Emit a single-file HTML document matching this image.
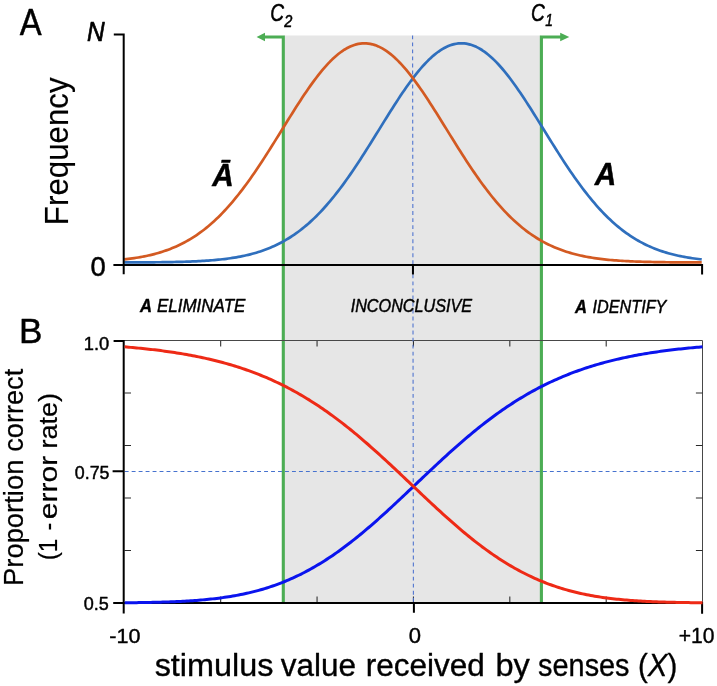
<!DOCTYPE html>
<html lang="en"><head><meta charset="utf-8"><title>Figure</title>
<style>html,body{margin:0;padding:0;background:#fff}svg{display:block;will-change:transform}</style></head>
<body>
<svg width="717" height="686" viewBox="0 0 717 686" font-family="Liberation Sans, sans-serif" fill="#000">
<rect x="0" y="0" width="717" height="686" fill="#fff"/>
<rect x="283.4" y="35.5" width="258" height="567.5" fill="#e6e6e6"/>
<path d="M283.3 602 V37 H264" fill="none" stroke="#4cad54" stroke-width="3.1"/>
<path d="M256.6 37 L265 32.8 V41.3 Z" fill="#4cad54"/>
<path d="M541.4 602 V37 H561" fill="none" stroke="#4cad54" stroke-width="3.1"/>
<path d="M569.3 37 L560.2 32.8 V41.3 Z" fill="#4cad54"/>
<path d="M123.7 340.5 H702.5 V603" fill="none" stroke="#484848" stroke-width="1"/>
<path d="M220.68 341 v5.5 M220.68 602 v-5.5 M317.06 341 v5.5 M317.06 602 v-5.5 M413.44 341 v5.5 M413.44 602 v-5.5 M509.82 341 v5.5 M509.82 602 v-5.5 M606.20 341 v5.5 M606.20 602 v-5.5 M124.5 393.00 h6.5 M702.5 393.00 h-6.6 M124.5 445.50 h6.5 M702.5 445.50 h-6.6 M124.5 498.00 h6.5 M702.5 498.00 h-6.6 M124.5 550.50 h6.5 M702.5 550.50 h-6.6" fill="none" stroke="#2a2a2a" stroke-width="1.05"/>
<path d="M412.6 35.5 L413.4 602" fill="none" stroke="#4a70cf" stroke-width="1.05" stroke-dasharray="3.9 3.13" stroke-dashoffset="0.14"/>
<path d="M124.7 471.5 H702.5" fill="none" stroke="#4672cf" stroke-width="1.1" stroke-dasharray="3.9 3.07"/>
<path d="M124.30 262.45 L126.30 262.44 L128.30 262.44 L130.30 262.43 L132.30 262.43 L134.30 262.42 L136.30 262.41 L138.30 262.40 L140.30 262.39 L142.30 262.38 L144.30 262.37 L146.30 262.36 L148.30 262.34 L150.30 262.33 L152.30 262.31 L154.30 262.29 L156.30 262.27 L158.30 262.25 L160.30 262.23 L162.30 262.20 L164.30 262.18 L166.30 262.15 L168.30 262.11 L170.30 262.08 L172.30 262.04 L174.30 262.00 L176.30 261.96 L178.30 261.91 L180.30 261.86 L182.30 261.80 L184.30 261.74 L186.30 261.68 L188.30 261.61 L190.30 261.53 L192.30 261.45 L194.30 261.37 L196.30 261.28 L198.30 261.18 L200.30 261.07 L202.30 260.96 L204.30 260.83 L206.30 260.70 L208.30 260.56 L210.30 260.41 L212.30 260.25 L214.30 260.08 L216.30 259.90 L218.30 259.71 L220.30 259.50 L222.30 259.28 L224.30 259.04 L226.30 258.79 L228.30 258.53 L230.30 258.25 L232.30 257.95 L234.30 257.63 L236.30 257.30 L238.30 256.94 L240.30 256.56 L242.30 256.16 L244.30 255.74 L246.30 255.30 L248.30 254.83 L250.30 254.33 L252.30 253.81 L254.30 253.26 L256.30 252.68 L258.30 252.07 L260.30 251.43 L262.30 250.75 L264.30 250.04 L266.30 249.30 L268.30 248.52 L270.30 247.71 L272.30 246.85 L274.30 245.96 L276.30 245.02 L278.30 244.05 L280.30 243.03 L282.30 241.97 L284.30 240.86 L286.30 239.70 L288.30 238.50 L290.30 237.25 L292.30 235.95 L294.30 234.60 L296.30 233.19 L298.30 231.74 L300.30 230.23 L302.30 228.67 L304.30 227.05 L306.30 225.38 L308.30 223.65 L310.30 221.87 L312.30 220.02 L314.30 218.13 L316.30 216.17 L318.30 214.16 L320.30 212.08 L322.30 209.96 L324.30 207.77 L326.30 205.52 L328.30 203.22 L330.30 200.86 L332.30 198.45 L334.30 195.98 L336.30 193.46 L338.30 190.88 L340.30 188.25 L342.30 185.57 L344.30 182.84 L346.30 180.06 L348.30 177.24 L350.30 174.37 L352.30 171.46 L354.30 168.50 L356.30 165.51 L358.30 162.49 L360.30 159.42 L362.30 156.33 L364.30 153.21 L366.30 150.07 L368.30 146.90 L370.30 143.71 L372.30 140.51 L374.30 137.29 L376.30 134.07 L378.30 130.84 L380.30 127.61 L382.30 124.38 L384.30 121.16 L386.30 117.95 L388.30 114.75 L390.30 111.57 L392.30 108.41 L394.30 105.28 L396.30 102.19 L398.30 99.12 L400.30 96.10 L402.30 93.12 L404.30 90.19 L406.30 87.31 L408.30 84.49 L410.30 81.73 L412.30 79.04 L414.30 76.41 L416.30 73.86 L418.30 71.39 L420.30 69.00 L422.30 66.69 L424.30 64.48 L426.30 62.36 L428.30 60.33 L430.30 58.40 L432.30 56.58 L434.30 54.87 L436.30 53.26 L438.30 51.77 L440.30 50.39 L442.30 49.12 L444.30 47.98 L446.30 46.96 L448.30 46.06 L450.30 45.28 L452.30 44.64 L454.30 44.11 L456.30 43.72 L458.30 43.46 L460.30 43.32 L462.30 43.31 L464.30 43.44 L466.30 43.69 L468.30 44.07 L470.30 44.58 L472.30 45.21 L474.30 45.98 L476.30 46.86 L478.30 47.87 L480.30 49.00 L482.30 50.26 L484.30 51.62 L486.30 53.11 L488.30 54.70 L490.30 56.41 L492.30 58.22 L494.30 60.13 L496.30 62.15 L498.30 64.26 L500.30 66.47 L502.30 68.76 L504.30 71.15 L506.30 73.61 L508.30 76.15 L510.30 78.77 L512.30 81.46 L514.30 84.21 L516.30 87.03 L518.30 89.90 L520.30 92.82 L522.30 95.80 L524.30 98.82 L526.30 101.88 L528.30 104.97 L530.30 108.10 L532.30 111.25 L534.30 114.43 L536.30 117.63 L538.30 120.84 L540.30 124.06 L542.30 127.29 L544.30 130.52 L546.30 133.75 L548.30 136.97 L550.30 140.19 L552.30 143.39 L554.30 146.58 L556.30 149.75 L558.30 152.90 L560.30 156.02 L562.30 159.12 L564.30 162.18 L566.30 165.21 L568.30 168.21 L570.30 171.16 L572.30 174.08 L574.30 176.95 L576.30 179.78 L578.30 182.57 L580.30 185.30 L582.30 187.99 L584.30 190.62 L586.30 193.20 L588.30 195.73 L590.30 198.21 L592.30 200.63 L594.30 202.99 L596.30 205.30 L598.30 207.55 L600.30 209.74 L602.30 211.87 L604.30 213.95 L606.30 215.97 L608.30 217.93 L610.30 219.84 L612.30 221.68 L614.30 223.47 L616.30 225.21 L618.30 226.89 L620.30 228.51 L622.30 230.08 L624.30 231.59 L626.30 233.05 L628.30 234.46 L630.30 235.81 L632.30 237.12 L634.30 238.38 L636.30 239.58 L638.30 240.74 L640.30 241.86 L642.30 242.92 L644.30 243.95 L646.30 244.93 L648.30 245.87 L650.30 246.77 L652.30 247.62 L654.30 248.44 L656.30 249.23 L658.30 249.97 L660.30 250.68 L662.30 251.36 L664.30 252.00 L666.30 252.62 L668.30 253.20 L670.30 253.75 L672.30 254.28 L674.30 254.78 L676.30 255.25 L678.30 255.70 L680.30 256.12 L682.30 256.52 L684.30 256.90 L686.30 257.26 L688.30 257.60 L690.30 257.92 L692.30 258.22 L694.30 258.50 L696.30 258.77 L698.30 259.02 L700.30 259.26 L701.70 259.41" fill="none" stroke="#2f6fbd" stroke-width="2.7" stroke-linejoin="round"/>
<path d="M124.30 259.39 L126.30 259.16 L128.30 258.92 L130.30 258.66 L132.30 258.39 L134.30 258.10 L136.30 257.79 L138.30 257.47 L140.30 257.12 L142.30 256.75 L144.30 256.37 L146.30 255.96 L148.30 255.52 L150.30 255.07 L152.30 254.58 L154.30 254.07 L156.30 253.54 L158.30 252.97 L160.30 252.38 L162.30 251.75 L164.30 251.09 L166.30 250.40 L168.30 249.68 L170.30 248.92 L172.30 248.12 L174.30 247.28 L176.30 246.41 L178.30 245.50 L180.30 244.54 L182.30 243.54 L184.30 242.50 L186.30 241.42 L188.30 240.29 L190.30 239.11 L192.30 237.88 L194.30 236.60 L196.30 235.28 L198.30 233.90 L200.30 232.47 L202.30 230.99 L204.30 229.46 L206.30 227.87 L208.30 226.22 L210.30 224.52 L212.30 222.77 L214.30 220.95 L216.30 219.08 L218.30 217.16 L220.30 215.17 L222.30 213.13 L224.30 211.03 L226.30 208.87 L228.30 206.65 L230.30 204.38 L232.30 202.05 L234.30 199.66 L236.30 197.22 L238.30 194.73 L240.30 192.18 L242.30 189.57 L244.30 186.92 L246.30 184.21 L248.30 181.46 L250.30 178.66 L252.30 175.81 L254.30 172.92 L256.30 169.99 L258.30 167.01 L260.30 164.00 L262.30 160.96 L264.30 157.88 L266.30 154.78 L268.30 151.64 L270.30 148.49 L272.30 145.31 L274.30 142.11 L276.30 138.90 L278.30 135.68 L280.30 132.46 L282.30 129.23 L284.30 126.00 L286.30 122.77 L288.30 119.55 L290.30 116.35 L292.30 113.16 L294.30 109.99 L296.30 106.85 L298.30 103.73 L300.30 100.65 L302.30 97.61 L304.30 94.60 L306.30 91.65 L308.30 88.74 L310.30 85.89 L312.30 83.10 L314.30 80.37 L316.30 77.71 L318.30 75.13 L320.30 72.61 L322.30 70.18 L324.30 67.83 L326.30 65.57 L328.30 63.40 L330.30 61.33 L332.30 59.35 L334.30 57.48 L336.30 55.71 L338.30 54.05 L340.30 52.50 L342.30 51.06 L344.30 49.74 L346.30 48.54 L348.30 47.45 L350.30 46.49 L352.30 45.66 L354.30 44.94 L356.30 44.36 L358.30 43.90 L360.30 43.57 L362.30 43.37 L364.30 43.30 L366.30 43.36 L368.30 43.55 L370.30 43.86 L372.30 44.31 L374.30 44.88 L376.30 45.58 L378.30 46.40 L380.30 47.35 L382.30 48.42 L384.30 49.62 L386.30 50.92 L388.30 52.35 L390.30 53.89 L392.30 55.54 L394.30 57.30 L396.30 59.16 L398.30 61.13 L400.30 63.19 L402.30 65.35 L404.30 67.60 L406.30 69.94 L408.30 72.37 L410.30 74.87 L412.30 77.45 L414.30 80.11 L416.30 82.83 L418.30 85.61 L420.30 88.46 L422.30 91.35 L424.30 94.31 L426.30 97.30 L428.30 100.34 L430.30 103.42 L432.30 106.53 L434.30 109.67 L436.30 112.84 L438.30 116.03 L440.30 119.23 L442.30 122.45 L444.30 125.67 L446.30 128.90 L448.30 132.13 L450.30 135.36 L452.30 138.58 L454.30 141.79 L456.30 144.99 L458.30 148.17 L460.30 151.33 L462.30 154.46 L464.30 157.57 L466.30 160.65 L468.30 163.70 L470.30 166.71 L472.30 169.69 L474.30 172.63 L476.30 175.52 L478.30 178.37 L480.30 181.18 L482.30 183.94 L484.30 186.65 L486.30 189.31 L488.30 191.92 L490.30 194.47 L492.30 196.98 L494.30 199.42 L496.30 201.81 L498.30 204.15 L500.30 206.43 L502.30 208.65 L504.30 210.81 L506.30 212.92 L508.30 214.97 L510.30 216.96 L512.30 218.89 L514.30 220.77 L516.30 222.59 L518.30 224.35 L520.30 226.05 L522.30 227.70 L524.30 229.30 L526.30 230.84 L528.30 232.33 L530.30 233.76 L532.30 235.14 L534.30 236.47 L536.30 237.75 L538.30 238.99 L540.30 240.17 L542.30 241.31 L544.30 242.40 L546.30 243.44 L548.30 244.44 L550.30 245.40 L552.30 246.32 L554.30 247.20 L556.30 248.04 L558.30 248.84 L560.30 249.60 L562.30 250.33 L564.30 251.03 L566.30 251.69 L568.30 252.31 L570.30 252.91 L572.30 253.48 L574.30 254.02 L576.30 254.53 L578.30 255.02 L580.30 255.48 L582.30 255.91 L584.30 256.33 L586.30 256.72 L588.30 257.08 L590.30 257.43 L592.30 257.76 L594.30 258.07 L596.30 258.36 L598.30 258.64 L600.30 258.90 L602.30 259.14 L604.30 259.37 L606.30 259.58 L608.30 259.79 L610.30 259.97 L612.30 260.15 L614.30 260.32 L616.30 260.47 L618.30 260.62 L620.30 260.76 L622.30 260.88 L624.30 261.00 L626.30 261.11 L628.30 261.22 L630.30 261.31 L632.30 261.40 L634.30 261.49 L636.30 261.57 L638.30 261.64 L640.30 261.70 L642.30 261.77 L644.30 261.83 L646.30 261.88 L648.30 261.93 L650.30 261.97 L652.30 262.02 L654.30 262.06 L656.30 262.09 L658.30 262.13 L660.30 262.16 L662.30 262.19 L664.30 262.21 L666.30 262.24 L668.30 262.26 L670.30 262.28 L672.30 262.30 L674.30 262.32 L676.30 262.33 L678.30 262.35 L680.30 262.36 L682.30 262.37 L684.30 262.39 L686.30 262.40 L688.30 262.41 L690.30 262.41 L692.30 262.42 L694.30 262.43 L696.30 262.44 L698.30 262.44 L700.30 262.45 L701.70 262.45" fill="none" stroke="#d35a22" stroke-width="2.7" stroke-linejoin="round"/>
<path d="M113.8 34.4 H123.7 V274.2 M113.4 264.9 H702.1 M412.95 264.9 V274.4 M702.1 263.9 V274.6" fill="none" stroke="#000" stroke-width="2"/>
<path d="M113.6 341.1 H123.7 V613.6 M112.6 471.2 H123.7 M113.2 603 H703.1 M413.9 603 V612.8 M702.1 603 V613.8" fill="none" stroke="#000" stroke-width="2"/>
<path d="M124.70 602.77 L126.70 602.75 L128.70 602.73 L130.70 602.71 L132.70 602.69 L134.70 602.67 L136.70 602.64 L138.70 602.61 L140.70 602.58 L142.70 602.55 L144.70 602.52 L146.70 602.48 L148.70 602.45 L150.70 602.40 L152.70 602.36 L154.70 602.31 L156.70 602.27 L158.70 602.21 L160.70 602.16 L162.70 602.10 L164.70 602.04 L166.70 601.97 L168.70 601.90 L170.70 601.82 L172.70 601.75 L174.70 601.66 L176.70 601.57 L178.70 601.48 L180.70 601.38 L182.70 601.28 L184.70 601.17 L186.70 601.05 L188.70 600.93 L190.70 600.80 L192.70 600.67 L194.70 600.52 L196.70 600.38 L198.70 600.22 L200.70 600.05 L202.70 599.88 L204.70 599.70 L206.70 599.51 L208.70 599.31 L210.70 599.10 L212.70 598.88 L214.70 598.65 L216.70 598.41 L218.70 598.16 L220.70 597.90 L222.70 597.62 L224.70 597.34 L226.70 597.04 L228.70 596.73 L230.70 596.41 L232.70 596.07 L234.70 595.72 L236.70 595.36 L238.70 594.98 L240.70 594.59 L242.70 594.18 L244.70 593.76 L246.70 593.32 L248.70 592.86 L250.70 592.39 L252.70 591.90 L254.70 591.39 L256.70 590.87 L258.70 590.33 L260.70 589.77 L262.70 589.19 L264.70 588.59 L266.70 587.98 L268.70 587.34 L270.70 586.68 L272.70 586.01 L274.70 585.31 L276.70 584.59 L278.70 583.86 L280.70 583.10 L282.70 582.32 L284.70 581.51 L286.70 580.69 L288.70 579.84 L290.70 578.97 L292.70 578.08 L294.70 577.17 L296.70 576.23 L298.70 575.27 L300.70 574.29 L302.70 573.28 L304.70 572.25 L306.70 571.20 L308.70 570.12 L310.70 569.02 L312.70 567.90 L314.70 566.75 L316.70 565.58 L318.70 564.39 L320.70 563.17 L322.70 561.93 L324.70 560.67 L326.70 559.38 L328.70 558.08 L330.70 556.74 L332.70 555.39 L334.70 554.01 L336.70 552.62 L338.70 551.20 L340.70 549.75 L342.70 548.29 L344.70 546.81 L346.70 545.30 L348.70 543.78 L350.70 542.23 L352.70 540.67 L354.70 539.08 L356.70 537.48 L358.70 535.86 L360.70 534.22 L362.70 532.56 L364.70 530.89 L366.70 529.20 L368.70 527.49 L370.70 525.77 L372.70 524.04 L374.70 522.29 L376.70 520.52 L378.70 518.75 L380.70 516.96 L382.70 515.15 L384.70 513.34 L386.70 511.52 L388.70 509.69 L390.70 507.84 L392.70 505.99 L394.70 504.13 L396.70 502.27 L398.70 500.39 L400.70 498.52 L402.70 496.63 L404.70 494.74 L406.70 492.85 L408.70 490.96 L410.70 489.06 L412.70 487.16 L414.70 485.26 L416.70 483.36 L418.70 481.46 L420.70 479.56 L422.70 477.66 L424.70 475.77 L426.70 473.88 L428.70 471.99 L430.70 470.11 L432.70 468.23 L434.70 466.36 L436.70 464.49 L438.70 462.63 L440.70 460.78 L442.70 458.94 L444.70 457.11 L446.70 455.28 L448.70 453.47 L450.70 451.66 L452.70 449.87 L454.70 448.09 L456.70 446.32 L458.70 444.56 L460.70 442.82 L462.70 441.09 L464.70 439.37 L466.70 437.67 L468.70 435.98 L470.70 434.30 L472.70 432.65 L474.70 431.01 L476.70 429.38 L478.70 427.77 L480.70 426.18 L482.70 424.60 L484.70 423.04 L486.70 421.50 L488.70 419.98 L490.70 418.47 L492.70 416.98 L494.70 415.51 L496.70 414.06 L498.70 412.63 L500.70 411.22 L502.70 409.82 L504.70 408.44 L506.70 407.09 L508.70 405.75 L510.70 404.43 L512.70 403.13 L514.70 401.85 L516.70 400.58 L518.70 399.34 L520.70 398.12 L522.70 396.91 L524.70 395.73 L526.70 394.56 L528.70 393.41 L530.70 392.28 L532.70 391.17 L534.70 390.08 L536.70 389.00 L538.70 387.95 L540.70 386.91 L542.70 385.90 L544.70 384.89 L546.70 383.91 L548.70 382.95 L550.70 382.00 L552.70 381.07 L554.70 380.16 L556.70 379.26 L558.70 378.39 L560.70 377.52 L562.70 376.68 L564.70 375.85 L566.70 375.04 L568.70 374.24 L570.70 373.46 L572.70 372.70 L574.70 371.95 L576.70 371.22 L578.70 370.50 L580.70 369.79 L582.70 369.10 L584.70 368.43 L586.70 367.77 L588.70 367.12 L590.70 366.48 L592.70 365.86 L594.70 365.26 L596.70 364.66 L598.70 364.08 L600.70 363.52 L602.70 362.96 L604.70 362.42 L606.70 361.88 L608.70 361.37 L610.70 360.86 L612.70 360.36 L614.70 359.87 L616.70 359.40 L618.70 358.94 L620.70 358.48 L622.70 358.04 L624.70 357.61 L626.70 357.19 L628.70 356.77 L630.70 356.37 L632.70 355.97 L634.70 355.59 L636.70 355.21 L638.70 354.85 L640.70 354.49 L642.70 354.14 L644.70 353.80 L646.70 353.47 L648.70 353.14 L650.70 352.82 L652.70 352.51 L654.70 352.21 L656.70 351.92 L658.70 351.63 L660.70 351.35 L662.70 351.07 L664.70 350.81 L666.70 350.54 L668.70 350.29 L670.70 350.04 L672.70 349.80 L674.70 349.56 L676.70 349.33 L678.70 349.11 L680.70 348.89 L682.70 348.68 L684.70 348.47 L686.70 348.27 L688.70 348.07 L690.70 347.88 L692.70 347.69 L694.70 347.50 L696.70 347.33 L698.70 347.15 L700.70 346.98 L702.50 346.83" fill="none" stroke="#0a14ee" stroke-width="3.0" stroke-linejoin="round"/>
<path d="M124.70 346.86 L126.70 347.02 L128.70 347.19 L130.70 347.37 L132.70 347.55 L134.70 347.73 L136.70 347.92 L138.70 348.12 L140.70 348.32 L142.70 348.52 L144.70 348.73 L146.70 348.94 L148.70 349.16 L150.70 349.39 L152.70 349.62 L154.70 349.86 L156.70 350.10 L158.70 350.35 L160.70 350.61 L162.70 350.87 L164.70 351.14 L166.70 351.42 L168.70 351.70 L170.70 351.99 L172.70 352.29 L174.70 352.59 L176.70 352.90 L178.70 353.22 L180.70 353.55 L182.70 353.88 L184.70 354.23 L186.70 354.58 L188.70 354.94 L190.70 355.31 L192.70 355.69 L194.70 356.07 L196.70 356.47 L198.70 356.87 L200.70 357.29 L202.70 357.72 L204.70 358.15 L206.70 358.60 L208.70 359.05 L210.70 359.52 L212.70 360.00 L214.70 360.48 L216.70 360.98 L218.70 361.49 L220.70 362.02 L222.70 362.55 L224.70 363.10 L226.70 363.66 L228.70 364.23 L230.70 364.81 L232.70 365.41 L234.70 366.02 L236.70 366.64 L238.70 367.28 L240.70 367.93 L242.70 368.59 L244.70 369.27 L246.70 369.97 L248.70 370.67 L250.70 371.40 L252.70 372.14 L254.70 372.89 L256.70 373.66 L258.70 374.44 L260.70 375.24 L262.70 376.06 L264.70 376.89 L266.70 377.74 L268.70 378.60 L270.70 379.49 L272.70 380.39 L274.70 381.30 L276.70 382.24 L278.70 383.19 L280.70 384.16 L282.70 385.14 L284.70 386.15 L286.70 387.17 L288.70 388.21 L290.70 389.27 L292.70 390.35 L294.70 391.45 L296.70 392.56 L298.70 393.70 L300.70 394.85 L302.70 396.02 L304.70 397.21 L306.70 398.42 L308.70 399.65 L310.70 400.90 L312.70 402.16 L314.70 403.45 L316.70 404.76 L318.70 406.08 L320.70 407.42 L322.70 408.79 L324.70 410.17 L326.70 411.57 L328.70 412.99 L330.70 414.42 L332.70 415.88 L334.70 417.35 L336.70 418.85 L338.70 420.36 L340.70 421.88 L342.70 423.43 L344.70 424.99 L346.70 426.57 L348.70 428.17 L350.70 429.78 L352.70 431.41 L354.70 433.06 L356.70 434.72 L358.70 436.40 L360.70 438.09 L362.70 439.80 L364.70 441.52 L366.70 443.25 L368.70 445.00 L370.70 446.76 L372.70 448.53 L374.70 450.32 L376.70 452.11 L378.70 453.92 L380.70 455.74 L382.70 457.56 L384.70 459.40 L386.70 461.25 L388.70 463.10 L390.70 464.96 L392.70 466.83 L394.70 468.70 L396.70 470.58 L398.70 472.46 L400.70 474.35 L402.70 476.24 L404.70 478.14 L406.70 480.04 L408.70 481.94 L410.70 483.84 L412.70 485.74 L414.70 487.64 L416.70 489.53 L418.70 491.43 L420.70 493.33 L422.70 495.22 L424.70 497.10 L426.70 498.99 L428.70 500.86 L430.70 502.73 L432.70 504.60 L434.70 506.46 L436.70 508.31 L438.70 510.15 L440.70 511.98 L442.70 513.80 L444.70 515.61 L446.70 517.40 L448.70 519.19 L450.70 520.97 L452.70 522.73 L454.70 524.47 L456.70 526.20 L458.70 527.92 L460.70 529.62 L462.70 531.31 L464.70 532.98 L466.70 534.63 L468.70 536.27 L470.70 537.88 L472.70 539.48 L474.70 541.06 L476.70 542.62 L478.70 544.16 L480.70 545.68 L482.70 547.18 L484.70 548.66 L486.70 550.12 L488.70 551.55 L490.70 552.97 L492.70 554.36 L494.70 555.73 L496.70 557.08 L498.70 558.41 L500.70 559.71 L502.70 560.99 L504.70 562.25 L506.70 563.48 L508.70 564.69 L510.70 565.88 L512.70 567.04 L514.70 568.18 L516.70 569.30 L518.70 570.39 L520.70 571.46 L522.70 572.51 L524.70 573.53 L526.70 574.53 L528.70 575.51 L530.70 576.47 L532.70 577.40 L534.70 578.31 L536.70 579.19 L538.70 580.05 L540.70 580.90 L542.70 581.72 L544.70 582.51 L546.70 583.29 L548.70 584.04 L550.70 584.78 L552.70 585.49 L554.70 586.18 L556.70 586.85 L558.70 587.50 L560.70 588.13 L562.70 588.74 L564.70 589.34 L566.70 589.91 L568.70 590.47 L570.70 591.00 L572.70 591.52 L574.70 592.02 L576.70 592.51 L578.70 592.98 L580.70 593.43 L582.70 593.86 L584.70 594.28 L586.70 594.69 L588.70 595.08 L590.70 595.45 L592.70 595.81 L594.70 596.16 L596.70 596.49 L598.70 596.81 L600.70 597.12 L602.70 597.41 L604.70 597.69 L606.70 597.96 L608.70 598.22 L610.70 598.47 L612.70 598.71 L614.70 598.93 L616.70 599.15 L618.70 599.36 L620.70 599.56 L622.70 599.74 L624.70 599.92 L626.70 600.09 L628.70 600.26 L630.70 600.41 L632.70 600.56 L634.70 600.70 L636.70 600.84 L638.70 600.96 L640.70 601.08 L642.70 601.20 L644.70 601.30 L646.70 601.41 L648.70 601.50 L650.70 601.60 L652.70 601.68 L654.70 601.77 L656.70 601.84 L658.70 601.92 L660.70 601.99 L662.70 602.05 L664.70 602.11 L666.70 602.17 L668.70 602.23 L670.70 602.28 L672.70 602.33 L674.70 602.37 L676.70 602.41 L678.70 602.45 L680.70 602.49 L682.70 602.53 L684.70 602.56 L686.70 602.59 L688.70 602.62 L690.70 602.65 L692.70 602.67 L694.70 602.70 L696.70 602.72 L698.70 602.74 L700.70 602.76 L702.50 602.78" fill="none" stroke="#ee2a16" stroke-width="3.0" stroke-linejoin="round"/>
<text transform="translate(19.75 34.55) scale(0.9063 1)" font-size="36.23" xml:space="preserve" stroke="#000" stroke-width="0.50" stroke-linejoin="round">A</text>
<text transform="translate(19.12 342.77) scale(0.9783 1)" font-size="35.87" xml:space="preserve" stroke="#000" stroke-width="0.45" stroke-linejoin="round">B</text>
<text transform="translate(87.12 41.25) scale(0.9062 1)" font-size="26.96" xml:space="preserve" font-style="italic" stroke="#000" stroke-width="0.70" stroke-linejoin="round">N</text>
<text transform="translate(90.43 275.75) scale(0.9957 1)" font-size="27.46" xml:space="preserve" stroke="#000" stroke-width="0.50" stroke-linejoin="round">0</text>
<text transform="translate(68.33 222.70) rotate(-90) translate(-2.43 0) scale(0.9655 1)" font-size="32.39" xml:space="preserve" stroke="#000" stroke-width="0.15" stroke-linejoin="round">Frequency</text>
<text transform="translate(22.80 583.90) rotate(-90) translate(-2.09 0) scale(1.0057 1)" font-size="27.25" xml:space="preserve" stroke="#000" stroke-width="0.20" stroke-linejoin="round">Proportion</text>
<text transform="translate(22.80 450.80) rotate(-90) translate(-0.99 0) scale(0.9971 1)" font-size="27.25" xml:space="preserve" stroke="#000" stroke-width="0.20" stroke-linejoin="round">correct</text>
<text transform="translate(57.20 559.00) rotate(-90) translate(-1.36 0) scale(0.9147 1)" font-size="26.67" xml:space="preserve" stroke="#000" stroke-width="0.20" stroke-linejoin="round">(1</text>
<text transform="translate(57.20 529.80) rotate(-90) translate(-0.81 0) scale(0.8550 1)" font-size="26.67" xml:space="preserve" stroke="#000" stroke-width="0.20" stroke-linejoin="round">-</text>
<text transform="translate(57.20 518.10) rotate(-90) translate(-1.10 0) scale(1.1259 1)" font-size="26.67" xml:space="preserve" stroke="#000" stroke-width="0.20" stroke-linejoin="round">error</text>
<text transform="translate(57.20 446.90) rotate(-90) translate(-1.52 0) scale(1.0132 1)" font-size="26.67" xml:space="preserve" stroke="#000" stroke-width="0.20" stroke-linejoin="round">rate)</text>
<text transform="translate(270.32 20.83) scale(0.8121 1)" font-size="23.45" xml:space="preserve" font-style="italic" stroke="#000" stroke-width="0.55" stroke-linejoin="round">C</text>
<text transform="translate(284.30 26.55) scale(0.8542 1)" font-size="17.14" xml:space="preserve" font-style="italic" stroke="#000" stroke-width="0.50" stroke-linejoin="round">2</text>
<text transform="translate(530.92 20.93) scale(0.8072 1)" font-size="23.59" xml:space="preserve" font-style="italic" stroke="#000" stroke-width="0.55" stroke-linejoin="round">C</text>
<text transform="translate(545.17 26.35) scale(0.8348 1)" font-size="16.67" xml:space="preserve" font-style="italic" stroke="#000" stroke-width="0.50" stroke-linejoin="round">1</text>
<text transform="translate(212.14 185.55) scale(0.9367 1)" font-size="31.71" xml:space="preserve" font-style="italic" font-weight="bold" stroke="#000" stroke-width="0.50" stroke-linejoin="round">Ā</text>
<text transform="translate(594.84 184.75) scale(0.9495 1)" font-size="31.29" xml:space="preserve" font-style="italic" font-weight="bold" stroke="#000" stroke-width="0.50" stroke-linejoin="round">A</text>
<text transform="translate(139.92 311.57) scale(0.9319 1)" font-size="17.75" xml:space="preserve" font-style="italic" font-weight="bold" stroke="#000" stroke-width="0.45" stroke-linejoin="round">A</text>
<text transform="translate(156.91 311.57) scale(0.9582 1)" font-size="17.75" xml:space="preserve" font-style="italic" stroke="#000" stroke-width="0.45" stroke-linejoin="round">ELIMINATE</text>
<text transform="translate(350.64 311.88) scale(0.9059 1)" font-size="17.90" xml:space="preserve" font-style="italic" stroke="#000" stroke-width="0.45" stroke-linejoin="round">INCONCLUSIVE</text>
<text transform="translate(575.02 312.77) scale(0.9243 1)" font-size="17.90" xml:space="preserve" font-style="italic" font-weight="bold" stroke="#000" stroke-width="0.45" stroke-linejoin="round">A</text>
<text transform="translate(592.44 312.77) scale(0.9077 1)" font-size="17.90" xml:space="preserve" font-style="italic" stroke="#000" stroke-width="0.45" stroke-linejoin="round">IDENTIFY</text>
<text transform="translate(83.74 349.57) scale(0.9849 1)" font-size="18.62" xml:space="preserve" stroke="#000" stroke-width="0.45" stroke-linejoin="round">1.0</text>
<text transform="translate(74.79 478.77) scale(0.9797 1)" font-size="18.21" xml:space="preserve" stroke="#000" stroke-width="0.45" stroke-linejoin="round">0.75</text>
<text transform="translate(83.68 609.67) scale(0.9904 1)" font-size="18.19" xml:space="preserve" stroke="#000" stroke-width="0.45" stroke-linejoin="round">0.5</text>
<text transform="translate(109.34 643.20) scale(1.0288 1)" font-size="21.01" xml:space="preserve" stroke="#000" stroke-width="0.40" stroke-linejoin="round">-10</text>
<text transform="translate(408.64 643.20) scale(1.0417 1)" font-size="21.16" xml:space="preserve" stroke="#000" stroke-width="0.40" stroke-linejoin="round">0</text>
<text transform="translate(678.76 643.40) scale(0.9908 1)" font-size="21.30" xml:space="preserve" stroke="#000" stroke-width="0.40" stroke-linejoin="round">+10</text>
<text transform="translate(154.63 675.53) scale(1.0378 1)" font-size="31.23" xml:space="preserve" stroke="#000" stroke-width="0.35" stroke-linejoin="round">stimulus</text>
<text transform="translate(280.78 675.53) scale(1.0084 1)" font-size="31.23" xml:space="preserve" stroke="#000" stroke-width="0.35" stroke-linejoin="round">value</text>
<text transform="translate(365.78 675.53) scale(1.0090 1)" font-size="31.23" xml:space="preserve" stroke="#000" stroke-width="0.35" stroke-linejoin="round">received</text>
<text transform="translate(495.42 675.53) scale(1.0430 1)" font-size="31.23" xml:space="preserve" stroke="#000" stroke-width="0.35" stroke-linejoin="round">by</text>
<text transform="translate(538.10 675.53) scale(0.9246 1)" font-size="31.23" xml:space="preserve" stroke="#000" stroke-width="0.35" stroke-linejoin="round">senses</text>
<text transform="translate(637.91 675.53) scale(0.9435 1)" font-size="31.23" xml:space="preserve" stroke="#000" stroke-width="0.35" stroke-linejoin="round"><tspan>(</tspan><tspan font-style="italic">X</tspan><tspan>)</tspan></text>
</svg>
</body></html>
